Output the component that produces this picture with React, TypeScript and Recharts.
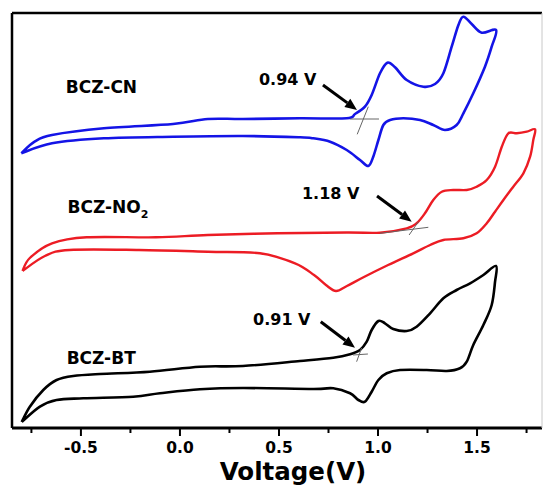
import React from "react";
import { LineChart, Line, XAxis, YAxis, ReferenceLine, ReferenceDot } from "recharts";

// cyclic voltammograms (current in arbitrary units)
const cnVolt = [
  -0.801, -0.734, -0.646, -0.384, -0.035, 0.141, 0.318, 0.606, 0.842, 0.884, 0.934, 0.968, 1.01, 1.047,
  1.086, 1.145, 1.229, 1.288, 1.33, 1.372, 1.406, 1.431, 1.473, 1.524, 1.596, 1.574, 1.54, 1.481, 1.431,
  1.397, 1.338, 1.279, 1.212, 1.128, 1.061, 1.027, 1.002, 0.976, 0.951, 0.909, 0.842, 0.758, 0.673, 0.606,
  0.318, -0.035, -0.384, -0.646, -0.801,
];
const cnCurrent = [
  274.7, 286.3, 293, 299.7, 304, 309, 309, 309.7, 309.7, 314, 321.3, 333, 354.7, 365.3, 360.7, 348, 341.3,
  344, 354.7, 381.3, 403, 411.3, 404, 395.3, 398, 381.3, 361.3, 334.7, 314.7, 303, 298, 303, 308, 309.7,
  308, 303, 288, 271.3, 262, 268, 278, 286.3, 289.7, 290.7, 292, 291.3, 289.7, 284.7, 274.7,
];

const no2Volt = [
  -0.795, -0.758, -0.646, -0.471, -0.121, 0.141, 0.492, 0.843, 1.01, 1.145, 1.195, 1.237, 1.279, 1.322,
  1.38, 1.448, 1.498, 1.549, 1.591, 1.625, 1.658, 1.701, 1.751, 1.793, 1.784, 1.768, 1.734, 1.683, 1.633,
  1.591, 1.549, 1.498, 1.431, 1.33, 1.263, 1.178, 1.051, 0.929, 0.843, 0.788, 0.737, 0.677, 0.581, 0.404,
  0.141, -0.207, -0.559, -0.682, -0.795,
];
const no2Current = [
  157, 170, 184.7, 190.7, 190.7, 193, 194.7, 195.5, 195.3, 199.7, 204.7, 214.7, 228, 236.3, 238, 238, 241.3,
  248, 261.3, 281.3, 294.7, 294.7, 296.3, 298.7, 288, 271.3, 254.7, 241.3, 228, 216.3, 204.7, 194.7, 189.7,
  188, 183, 174.7, 163, 151, 142, 137, 143, 153, 164.7, 174.7, 176.3, 178, 178, 172, 157,
];

const btVolt = [
  -0.799, -0.758, -0.69, -0.623, -0.539, -0.404, -0.152, 0.101, 0.318, 0.606, 0.774, 0.859, 0.909, 0.943,
  0.968, 1.002, 1.035, 1.077, 1.145, 1.195, 1.263, 1.33, 1.397, 1.465, 1.532, 1.596, 1.591, 1.574, 1.532,
  1.481, 1.448, 1.414, 1.347, 1.246, 1.111, 1.044, 1.002, 0.968, 0.934, 0.901, 0.859, 0.774, 0.673, 0.318,
  0.101, -0.101, -0.236, -0.488, -0.623, -0.707, -0.799,
];
const btCurrent = [
  6, 21.3, 38, 48, 52, 54, 56.3, 61.3, 62, 67, 70.3, 73.7, 78, 86.3, 98, 107, 104.7, 99, 97, 101.3, 114.7,
  129.7, 138, 144.7, 153, 162, 146.3, 123, 103, 83, 66.3, 59.7, 57, 58, 58, 54.7, 48, 36.3, 26.3, 28, 34.7,
  39.7, 39, 40, 38.7, 34.7, 31.3, 29.7, 28, 21.3, 6,
];

const sampleNames = ["BCZ-CN", "BCZ-NO", "BCZ-BT"];
const onsetLabels = ["0.94 V", "1.18 V", "0.91 V"];
const majorTicks = [-0.5, 0, 0.5, 1, 1.5];
const allTicks = [-0.75, -0.5, -0.25, 0, 0.25, 0.5, 0.75, 1, 1.25, 1.5, 1.75];

const toRows = (volt: number[], current: number[]) => volt.map((v, k) => ({ v, i: current[k] }));
const cnData = toRows(cnVolt, cnCurrent);
const no2Data = toRows(no2Volt, no2Current);
const btData = toRows(btVolt, btCurrent);

// annotation layout (data coordinates)
const nameAt = [
  { x: -0.576, y: 335 },
  { x: -0.568, y: 215 },
  { x: -0.572, y: 64 },
];
const onsetAt = [
  { x: 0.399, y: 343 },
  { x: 0.616, y: 229 },
  { x: 0.369, y: 103 },
];
const arrows = [
  [{ x: 0.722, y: 343 }, { x: 0.894, y: 318 }],
  [{ x: 0.995, y: 232 }, { x: 1.17, y: 206.3 }],
  [{ x: 0.711, y: 106.3 }, { x: 0.884, y: 80.3 }],
];
const tangents = [
  [{ x: 0.859, y: 309 }, { x: 1.005, y: 309 }],
  [{ x: 0.895, y: 293.7 }, { x: 0.951, y: 321.3 }],
  [{ x: 1.01, y: 194.7 }, { x: 1.254, y: 200.7 }],
  [{ x: 1.157, y: 193 }, { x: 1.204, y: 206.3 }],
  [{ x: 0.874, y: 73 }, { x: 0.949, y: 74 }],
  [{ x: 0.892, y: 66.3 }, { x: 0.917, y: 80 }],
];

const FONT = "'DejaVu Sans', sans-serif";
const X_DOMAIN: [number, number] = [-0.848, 1.828];
const Y_DOMAIN: [number, number] = [0, 415];

// uniform Catmull-Rom, so the closed loops stay smooth
const smooth = (ctx: any) => {
  let pts: [number, number][] = [];
  return {
    areaStart() {},
    areaEnd() {},
    lineStart() {
      pts = [];
    },
    point(x: number, y: number) {
      pts.push([x, y]);
    },
    lineEnd() {
      if (!pts.length) return;
      ctx.moveTo(pts[0][0], pts[0][1]);
      for (let k = 0; k < pts.length - 1; k++) {
        const p0 = pts[Math.max(k - 1, 0)];
        const p1 = pts[k];
        const p2 = pts[k + 1];
        const p3 = pts[Math.min(k + 2, pts.length - 1)];
        ctx.bezierCurveTo(
          p1[0] + (p2[0] - p0[0]) / 6,
          p1[1] + (p2[1] - p0[1]) / 6,
          p2[0] - (p3[0] - p1[0]) / 6,
          p2[1] - (p3[1] - p1[1]) / 6,
          p2[0],
          p2[1]
        );
      }
    },
  };
};

function VoltTick({ x, y, payload }: any) {
  const major = majorTicks.includes(payload.value);
  return (
    <g>
      <line x1={x} x2={x} y1={y} y2={y + (major ? 8 : 5)} stroke="#000" strokeWidth={2} />
      {major && (
        <text x={x} y={y + 25} textAnchor="middle" fontFamily={FONT} fontWeight="bold" fontSize={15.5} fill="#000">
          {payload.value.toFixed(1)}
        </text>
      )}
    </g>
  );
}

function Arrow({ x1, y1, x2, y2 }: any) {
  const a = Math.atan2(y2 - y1, x2 - x1);
  const len = 12;
  const half = 5;
  const bx = x2 - len * Math.cos(a);
  const by = y2 - len * Math.sin(a);
  const pts = `${x2},${y2} ${bx - half * Math.sin(a)},${by + half * Math.cos(a)} ${bx + half * Math.sin(a)},${by - half * Math.cos(a)}`;
  return (
    <g>
      <line x1={x1} y1={y1} x2={bx} y2={by} stroke="#000" strokeWidth={3} />
      <polygon points={pts} fill="#000" />
    </g>
  );
}

function textShape(label: string, size: number, sub?: string) {
  return ({ cx, cy }: any) => (
    <text x={cx} y={cy} fontFamily={FONT} fontWeight="bold" fontSize={size} fill="#000">
      {label}
      {sub && (
        <tspan fontSize={size * 0.65} dy={5}>
          {sub}
        </tspan>
      )}
    </text>
  );
}

export default function App() {
  return (
    <div style={{ position: "fixed", left: 0, top: 0, background: "#fff" }}>
      <LineChart width={544} height={487} margin={{ top: 12, right: 1, bottom: 0, left: 11 }}>
        <XAxis
          dataKey="v"
          type="number"
          domain={X_DOMAIN}
          allowDataOverflow
          ticks={allTicks}
          interval={0}
          height={59}
          tickSize={0}
          tickMargin={0}
          tickLine={false}
          tick={<VoltTick />}
          axisLine={{ stroke: "#000", strokeWidth: 3 }}
          label={{
            content: ({ viewBox }: any) => (
              <text
                x={viewBox.x + viewBox.width / 2 + 16}
                y={viewBox.y + 52}
                textAnchor="middle"
                fontFamily={FONT}
                fontWeight="bold"
                fontSize={24.5}
                fill="#000"
              >
                Voltage(V)
              </text>
            ),
          }}
        />
        <XAxis
          xAxisId="top"
          orientation="top"
          dataKey="v"
          type="number"
          domain={X_DOMAIN}
          allowDataOverflow
          height={1}
          tick={false}
          tickLine={false}
          axisLine={{ stroke: "#000", strokeWidth: 2.5 }}
        />
        <YAxis
          type="number"
          domain={Y_DOMAIN}
          allowDataOverflow
          width={1}
          tick={false}
          tickLine={false}
          axisLine={{ stroke: "#000", strokeWidth: 2.5 }}
        />
        <YAxis
          yAxisId="right"
          orientation="right"
          type="number"
          domain={Y_DOMAIN}
          width={1}
          tick={false}
          tickLine={false}
          axisLine={{ stroke: "#c8c8c8", strokeWidth: 1 }}
        />

        <Line data={cnData} dataKey="i" type={smooth as any} stroke="#1414e6" strokeWidth={2.6} dot={false} isAnimationActive={false} />
        <Line data={no2Data} dataKey="i" type={smooth as any} stroke="#ec1c24" strokeWidth={2.4} dot={false} isAnimationActive={false} />
        <Line data={btData} dataKey="i" type={smooth as any} stroke="#000" strokeWidth={2.6} dot={false} isAnimationActive={false} />

        {tangents.map((seg, k) => (
          <ReferenceLine key={`t${k}`} segment={seg} stroke="#666" strokeWidth={1} ifOverflow="visible" />
        ))}
        {arrows.map((seg, k) => (
          <ReferenceLine key={`a${k}`} segment={seg} ifOverflow="visible" shape={Arrow} />
        ))}
        {sampleNames.map((name, k) => (
          <ReferenceDot
            key={`n${k}`}
            x={nameAt[k].x}
            y={nameAt[k].y}
            r={0}
            ifOverflow="visible"
            shape={textShape(name, 17, k === 1 ? "2" : undefined)}
          />
        ))}
        {onsetLabels.map((txt, k) => (
          <ReferenceDot key={`o${k}`} x={onsetAt[k].x} y={onsetAt[k].y} r={0} ifOverflow="visible" shape={textShape(txt, 16)} />
        ))}
      </LineChart>
    </div>
  );
}
